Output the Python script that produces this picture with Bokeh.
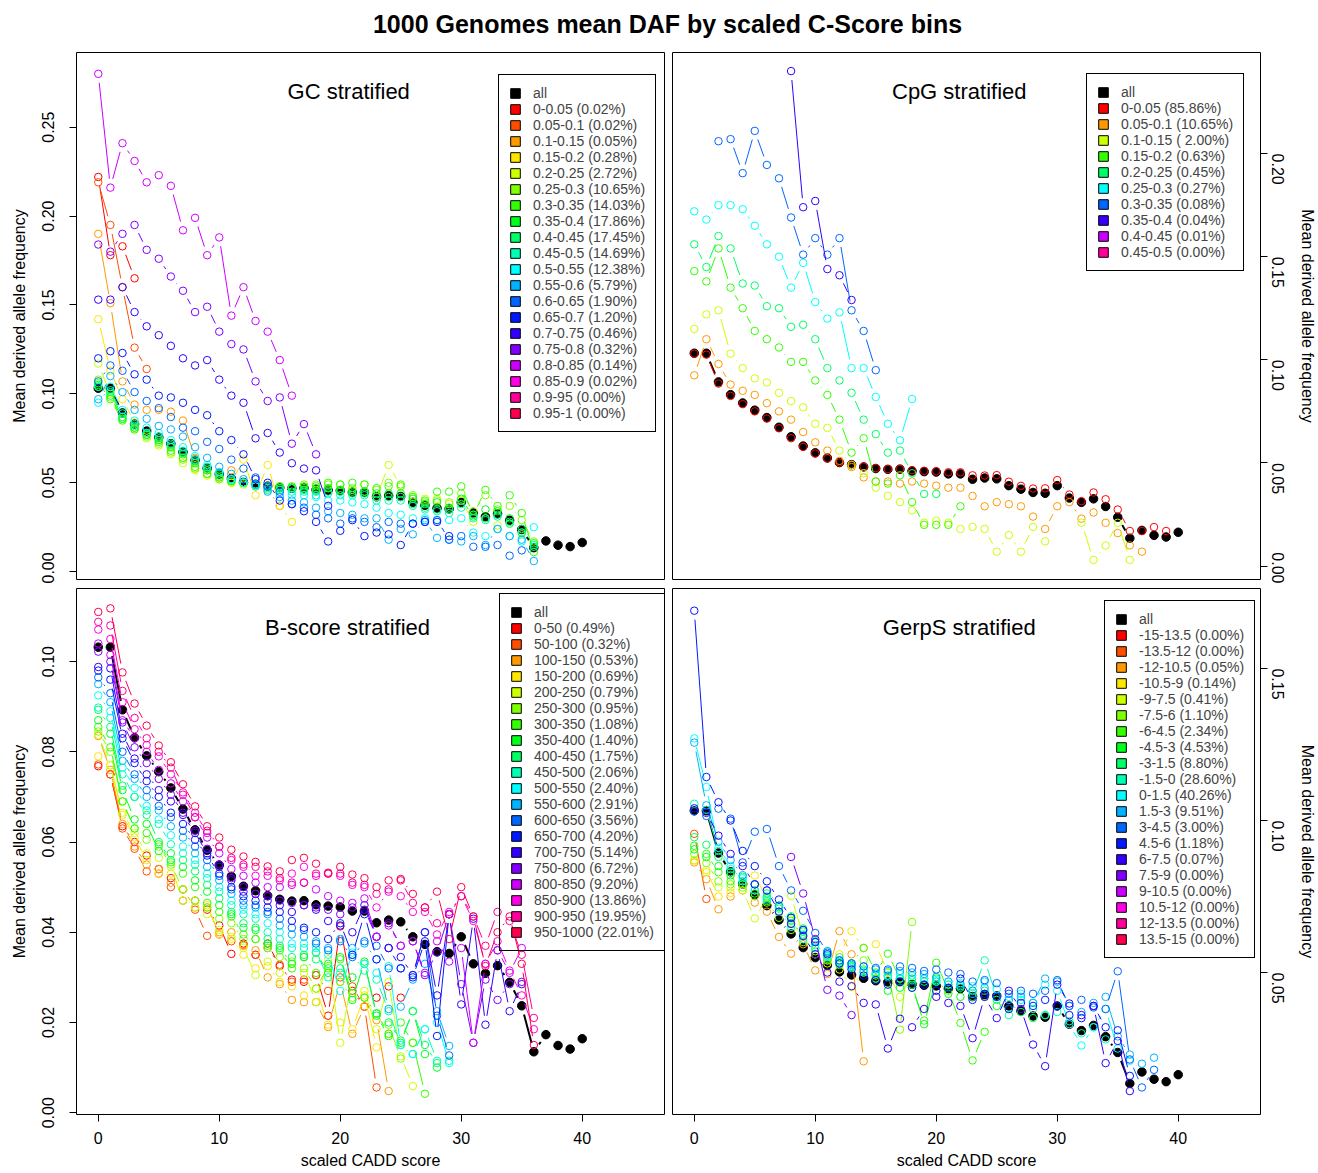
import math
import colorsys
from bokeh.plotting import figure
from bokeh.models import Legend, LegendItem, Label, FixedTicker, PrintfTickFormatter, Range1d
from bokeh.layouts import column, row
from bokeh.embed import file_html
from bokeh.resources import INLINE

FONT = "Liberation Sans"

# ---------------------------------------------------------------- data
cadd_score = list(range(41))
all_daf = [0.1032, 0.1032, 0.0893, 0.0831, 0.0791, 0.0756, 0.0720, 0.0673, 0.0627, 0.0582,
           0.0549, 0.0524, 0.0502, 0.0492, 0.0481, 0.0473, 0.0469, 0.0470, 0.0461, 0.0458,
           0.0456, 0.0447, 0.0447, 0.0421, 0.0427, 0.0423, 0.0390, 0.0373, 0.0357, 0.0353,
           0.0390, 0.0330, 0.0309, 0.0326, 0.0289, 0.0237, 0.0135, 0.0173, 0.0149, 0.0141, 0.0164]

# --- GC stratified
gc_labels = ["0-0.05 (0.02%)", "0.05-0.1 (0.02%)", "0.1-0.15 (0.05%)", "0.15-0.2 (0.28%)",
             "0.2-0.25 (2.72%)", "0.25-0.3 (10.65%)", "0.3-0.35 (14.03%)", "0.35-0.4 (17.86%)",
             "0.4-0.45 (17.45%)", "0.45-0.5 (14.69%)", "0.5-0.55 (12.38%)", "0.55-0.6 (5.79%)",
             "0.6-0.65 (1.90%)", "0.65-0.7 (1.20%)", "0.7-0.75 (0.46%)", "0.75-0.8 (0.32%)",
             "0.8-0.85 (0.14%)", "0.85-0.9 (0.02%)", "0.9-95 (0.00%)", "0.95-1 (0.00%)"]
gc_0_005 = [0.222, 0.178, 0.183, 0.165]
gc_005_01 = [0.219, 0.195, 0.160, 0.126, 0.114]
gc_01_015 = [0.190, 0.151, 0.107, 0.094, 0.091, 0.091, 0.090, 0.085, 0.064, 0.057, 0.053, 0.057,
             0.050, 0.048, 0.046, 0.037]
gc_015_02 = [0.142, 0.113, 0.097, 0.084, 0.077, 0.074, 0.070, 0.064, 0.058, 0.055, 0.052, 0.050,
             0.063, 0.043, 0.060, 0.037, 0.028]
gc_02_025 = [0.117, 0.100, 0.087, 0.080, 0.075, 0.071, 0.066, 0.061, 0.057, 0.054, 0.052, 0.050,
             0.049, 0.048, 0.046, 0.046, 0.047, 0.046, 0.046, 0.047, 0.046, 0.046, 0.045, 0.042,
             0.060, 0.048, 0.042, 0.041, 0.041, 0.038, 0.040, 0.028, 0.030, 0.026, 0.027, 0.021]
gc_025_03 = [0.108, 0.098, 0.086, 0.081, 0.076, 0.072, 0.067, 0.063, 0.058, 0.055, 0.052, 0.051,
             0.050, 0.048, 0.047, 0.048, 0.047, 0.049, 0.049, 0.049, 0.049, 0.047, 0.049, 0.046,
             0.050, 0.048, 0.043, 0.039, 0.040, 0.039, 0.044, 0.034, 0.043, 0.035, 0.037, 0.029, 0.017]
gc_03_035 = [0.106, 0.097, 0.085, 0.080, 0.077, 0.073, 0.068, 0.064, 0.059, 0.055, 0.053, 0.051,
             0.050, 0.049, 0.048, 0.048, 0.048, 0.048, 0.048, 0.050, 0.049, 0.050, 0.049, 0.047,
             0.048, 0.049, 0.042, 0.040, 0.045, 0.045, 0.048, 0.032, 0.046, 0.037, 0.043, 0.033, 0.011]
gc_035_04 = [0.105, 0.099, 0.086, 0.081, 0.077, 0.074, 0.070, 0.066, 0.061, 0.057, 0.054, 0.051,
             0.050, 0.049, 0.048, 0.047, 0.047, 0.047, 0.047, 0.047, 0.046, 0.045, 0.045, 0.044,
             0.044, 0.044, 0.041, 0.038, 0.039, 0.036, 0.041, 0.031, 0.035, 0.034, 0.030, 0.022, 0.016]
gc_04_045 = [0.104, 0.101, 0.087, 0.082, 0.078, 0.075, 0.071, 0.067, 0.062, 0.058, 0.055, 0.052,
             0.050, 0.049, 0.048, 0.047, 0.047, 0.046, 0.045, 0.045, 0.045, 0.044, 0.044, 0.042,
             0.042, 0.042, 0.038, 0.036, 0.035, 0.035, 0.038, 0.032, 0.030, 0.032, 0.028, 0.024, 0.015]
gc_045_05 = [0.104, 0.102, 0.089, 0.083, 0.078, 0.076, 0.072, 0.068, 0.063, 0.059, 0.056, 0.052,
             0.050, 0.049, 0.047, 0.046, 0.045, 0.045, 0.043, 0.044, 0.043, 0.043, 0.043, 0.040,
             0.040, 0.040, 0.037, 0.035, 0.034, 0.033, 0.036, 0.030, 0.029, 0.031, 0.027, 0.022, 0.014]
gc_05_055 = [0.095, 0.104, 0.091, 0.085, 0.081, 0.078, 0.074, 0.070, 0.065, 0.060, 0.056, 0.052,
             0.050, 0.048, 0.046, 0.044, 0.043, 0.043, 0.042, 0.040, 0.040, 0.039, 0.038, 0.036,
             0.033, 0.032, 0.030, 0.030, 0.029, 0.029, 0.030, 0.022, 0.020, 0.024, 0.020, 0.017, 0.025]
gc_055_06 = [0.097, 0.110, 0.101, 0.091, 0.086, 0.082, 0.080, 0.076, 0.070, 0.064, 0.059, 0.055,
             0.052, 0.049, 0.045, 0.042, 0.040, 0.039, 0.036, 0.034, 0.033, 0.032, 0.030, 0.030,
             0.018, 0.024, 0.021, 0.029, 0.019, 0.018, 0.017, 0.020, 0.015, 0.024, 0.020, 0.018, 0.006]
gc_06_065 = [0.107, 0.116, 0.113, 0.101, 0.096, 0.092, 0.087, 0.081, 0.079, 0.073, 0.069, 0.063,
             0.058, 0.053, 0.048, 0.045, 0.038, 0.036, 0.032, 0.030, 0.027, 0.030, 0.028, 0.025,
             0.028, 0.027, 0.027, 0.028, 0.029, 0.018, 0.020, 0.014, 0.014, 0.015, 0.009, 0.012]
gc_065_07 = [0.120, 0.124, 0.123, 0.111, 0.108, 0.099, 0.098, 0.095, 0.091, 0.088, 0.079, 0.074,
             0.066, 0.052, 0.050, 0.040, 0.038, 0.034, 0.028, 0.017, 0.023, 0.029, 0.020, 0.022,
             0.021, 0.015, 0.027, 0.028, 0.028, 0.020]
gc_07_075 = [0.153, 0.153, 0.160, 0.146, 0.138, 0.133, 0.127, 0.120, 0.116, 0.119, 0.108, 0.099,
             0.095, 0.075, 0.078, 0.067, 0.061, 0.058, 0.057, 0.037]
gc_075_08 = [0.184, 0.180, 0.190, 0.195, 0.181, 0.176, 0.166, 0.158, 0.146, 0.149, 0.135, 0.128,
             0.125, 0.107, 0.096, 0.098, 0.072, 0.083, 0.066]
gc_08_085 = [0.280, 0.216, 0.241, 0.231, 0.219, 0.223, 0.217, 0.192, 0.199, 0.178, 0.188, 0.144,
             0.160, 0.141, 0.135, 0.119, 0.099]
gc_085_09 = []
gc_09_095 = []
gc_095_1 = []

# --- CpG stratified
cpg_labels = ["0-0.05 (85.86%)", "0.05-0.1 (10.65%)", "0.1-0.15 ( 2.00%)", "0.15-0.2 (0.63%)",
              "0.2-0.25 (0.45%)", "0.25-0.3 (0.27%)", "0.3-0.35 (0.08%)", "0.35-0.4 (0.04%)",
              "0.4-0.45 (0.01%)", "0.45-0.5 (0.00%)"]
cpg_0_005 = [0.1030, 0.1025, 0.0885, 0.0825, 0.0785, 0.0750, 0.0715, 0.0668, 0.0620, 0.0578,
             0.0546, 0.0522, 0.0502, 0.0493, 0.0482, 0.0475, 0.0470, 0.0471, 0.0465, 0.0462,
             0.0460, 0.0455, 0.0455, 0.0440, 0.0439, 0.0441, 0.0409, 0.0389, 0.0376, 0.0377,
             0.0417, 0.0347, 0.0315, 0.0357, 0.0324, 0.0274, 0.0170, 0.0170, 0.0189, 0.0170]
cpg_005_01 = [0.0925, 0.110, 0.098, 0.088, 0.085, 0.083, 0.079, 0.075, 0.071, 0.065, 0.060, 0.056,
              0.051, 0.048, 0.043, 0.041, 0.041, 0.040, 0.041, 0.040, 0.039, 0.038, 0.038, 0.034,
              0.029, 0.031, 0.030, 0.029, 0.024, 0.018, 0.029, 0.031, 0.023, 0.026, 0.021, 0.016,
              0.010, 0.007]
cpg_01_015 = [0.115, 0.122, 0.124, 0.103, 0.096, 0.091, 0.089, 0.084, 0.080, 0.077, 0.069, 0.067,
              0.056, 0.049, 0.045, 0.038, 0.034, 0.031, 0.027, 0.021, 0.022, 0.021, 0.018, 0.019,
              0.018, 0.007, 0.015, 0.007, 0.019, 0.012, None, None, 0.021, 0.003, 0.010, 0.021, 0.003]
cpg_015_02 = [0.143, 0.138, 0.154, 0.135, 0.125, 0.114, 0.110, 0.106, 0.099, 0.099, 0.090, 0.083,
              0.071, 0.055, 0.062, 0.041, 0.040, 0.044, 0.031, 0.020, 0.020, 0.020, 0.029]
cpg_02_025 = [0.156, 0.145, 0.160, 0.154, 0.137, 0.136, 0.126, 0.125, 0.116, 0.117, 0.110, 0.096,
              0.090, 0.084, 0.071, 0.064, 0.055, 0.056, 0.045, 0.035, 0.035]
cpg_025_03 = [0.172, 0.168, 0.175, 0.175, 0.173, 0.165, 0.156, 0.150, 0.135, 0.147, 0.128, 0.120,
              0.123, 0.096, 0.096, 0.082, 0.069, 0.061, 0.081]
cpg_03_035 = [None, None, 0.206, 0.207, 0.1905, 0.211, 0.1945, 0.188, 0.169, 0.151, 0.159, 0.151,
              0.159, 0.124, 0.114, 0.095]
cpg_035_04 = [None, None, None, None, None, None, None, None, 0.240, 0.174, 0.177, 0.144, 0.141, 0.129]
cpg_04_045 = []
cpg_045_05 = []

# --- B-score stratified
bs_labels = ["0-50 (0.49%)", "50-100 (0.32%)", "100-150 (0.53%)", "150-200 (0.69%)",
             "200-250 (0.79%)", "250-300 (0.95%)", "300-350 (1.08%)", "350-400 (1.40%)",
             "400-450 (1.75%)", "450-500 (2.06%)", "500-550 (2.40%)", "550-600 (2.91%)",
             "600-650 (3.56%)", "650-700 (4.20%)", "700-750 (5.14%)", "750-800 (6.72%)",
             "800-850 (9.20%)", "850-900 (13.86%)", "900-950 (19.95%)", "950-1000 (22.01%)"]
bs_0_50 = [0.0768, 0.0750, 0.0635, 0.0600, 0.0570, 0.0540, 0.0520, 0.0495, 0.0470, 0.0450, 0.0415,
           0.0352, 0.0375, 0.0350, 0.0375, 0.0325, 0.0295, 0.0290, 0.0305, 0.0215, 0.0413, 0.0270,
           0.0235, 0.0255, 0.0280, 0.0255]
bs_50_100 = [0.0772, 0.0750, 0.0630, 0.0585, 0.0535, 0.0530, 0.0500, 0.0470, 0.0450, 0.0392, 0.0395,
             0.0380, 0.0372, 0.0350, 0.0365, 0.0328, 0.0290, 0.0295, 0.0305, 0.0270, 0.0300, 0.0280,
             0.0235, 0.0056]
bs_100_150 = [0.0835, 0.0760, 0.0640, 0.0590, 0.0550, 0.0540, 0.0510, 0.0495, 0.0455, 0.0455, 0.0400,
              0.0400, 0.0370, 0.0360, 0.0300, 0.0285, 0.0250, 0.0245, 0.0245, 0.0190, 0.0290, 0.0175,
              0.0235, 0.0205, 0.0048]
bs_150_200 = [0.0790, 0.0770, 0.0660, 0.0610, 0.0560, 0.0530, 0.0530, 0.0495, 0.0470, 0.0460, 0.0395,
              0.0385, 0.0350, 0.0320, 0.0325, 0.0290, 0.0280, 0.0260, 0.0275, 0.0195, 0.0200, 0.0185,
              0.0260, 0.0145, 0.0175]
bs_200_250 = [0.0838, 0.0770, 0.0665, 0.0620, 0.0575, 0.0565, 0.0545, 0.0470, 0.0455, 0.0440, 0.0405,
              0.0390, 0.0365, 0.0305, 0.0335, 0.0310, 0.0330, 0.0310, 0.0245, 0.0340, 0.0155, 0.0300,
              0.0270, 0.0185, 0.0290, 0.0125, 0.0059]
bs_250_300 = [0.0845, 0.0800, 0.0690, 0.0630, 0.0605, 0.0590, 0.0550, 0.0495, 0.0470, 0.0455, 0.0430,
              0.0420, 0.0385, 0.0385, 0.0365, 0.0345, 0.0335, 0.0320, 0.0275, 0.0325, 0.0290, 0.0255,
              0.0255, 0.0220, 0.0195, 0.0120, 0.0155]
bs_300_350 = [0.0855, 0.0810, 0.0690, 0.0630, 0.0620, 0.0595, 0.0555, 0.0530, 0.0500, 0.0465, 0.0445,
              0.0435, 0.0395, 0.0385, 0.0370, 0.0360, 0.0320, 0.0345, 0.0310, 0.0320, 0.0340, 0.0265,
              0.0255, 0.0220, 0.0175, 0.0200, 0.0155, 0.0042]
bs_350_400 = [0.0870, 0.0840, 0.0715, 0.0650, 0.0640, 0.0580, 0.0575, 0.0545, 0.0515, 0.0490, 0.0460,
              0.0440, 0.0410, 0.0405, 0.0375, 0.0365, 0.0330, 0.0345, 0.0355, 0.0310, 0.0345, 0.0250,
              0.0335, 0.0215, 0.0170, 0.0155, 0.0225, 0.0130, 0.0100]
bs_400_450 = [0.0893, 0.0855, 0.0725, 0.0700, 0.0660, 0.0600, 0.0560, 0.0560, 0.0535, 0.0505, 0.0475,
              0.0445, 0.0420, 0.0410, 0.0385, 0.0370, 0.0345, 0.0350, 0.0340, 0.0330, 0.0320, 0.0300,
              0.0330, 0.0220, 0.0200, 0.0160, 0.0225, 0.0150, 0.0110]
bs_450_500 = [0.0898, 0.0875, 0.0750, 0.0700, 0.0670, 0.0640, 0.0595, 0.0575, 0.0550, 0.0520, 0.0490,
              0.0460, 0.0440, 0.0430, 0.0400, 0.0385, 0.0365, 0.0365, 0.0355, 0.0300, 0.0310, 0.0350,
              0.0315, 0.0295, 0.0225, 0.0150, 0.0130, 0.0185, 0.0115, 0.0115]
bs_500_550 = [0.0925, 0.0890, 0.0765, 0.0720, 0.0680, 0.0650, 0.0615, 0.0590, 0.0560, 0.0530, 0.0500,
              0.0470, 0.0450, 0.0440, 0.0420, 0.0400, 0.0375, 0.0375, 0.0365, 0.0350, 0.0270, 0.0355,
              0.0330, 0.0310, 0.0325, 0.0150, 0.0130, 0.0185, 0.0200, 0.0110]
bs_550_600 = [0.0950, 0.0910, 0.0780, 0.0740, 0.0700, 0.0670, 0.0635, 0.0610, 0.0575, 0.0545, 0.0515,
              0.0485, 0.0460, 0.0455, 0.0440, 0.0415, 0.0395, 0.0390, 0.0380, 0.0365, 0.0385, 0.0365,
              0.0375, 0.0340, 0.0230, 0.0235, 0.0295, 0.0330, 0.0225, 0.0148]
bs_600_650 = [0.0965, 0.0930, 0.0800, 0.0750, 0.0715, 0.0680, 0.0655, 0.0625, 0.0590, 0.0560, 0.0525,
              0.0495, 0.0470, 0.0460, 0.0445, 0.0430, 0.0410, 0.0405, 0.0375, 0.0360, 0.0380, 0.0345,
              0.0380, 0.0370, 0.0320, 0.0320, 0.0305, 0.0400, 0.0215, 0.0127]
bs_650_700 = [0.0980, 0.0960, 0.0830, 0.0775, 0.0735, 0.0700, 0.0665, 0.0640, 0.0605, 0.0570, 0.0530,
              0.0500, 0.0480, 0.0470, 0.0455, 0.0445, 0.0425, 0.0410, 0.0400, 0.0385, 0.0420, 0.0350,
              0.0440, 0.0340, 0.0365, 0.0320, 0.0300, 0.0380, 0.0170, 0.0440]
bs_700_750 = [0.0988, 0.0985, 0.0840, 0.0785, 0.0750, 0.0715, 0.0690, 0.0660, 0.0620, 0.0575, 0.0545,
              0.0515, 0.0490, 0.0485, 0.0470, 0.0460, 0.0445, 0.0460, 0.0450, 0.0425, 0.0415, 0.0400,
              0.0460, 0.0390, 0.0365, 0.0345, 0.0305, 0.0400, 0.0260, 0.0440, 0.0240, 0.0430, 0.0195,
              0.0360, 0.0225, 0.0285]
bs_750_800 = [0.1022, 0.1000, 0.0865, 0.0810, 0.0775, 0.0740, 0.0705, 0.0665, 0.0625, 0.0585, 0.0550,
              0.0520, 0.0500, 0.0485, 0.0480, 0.0470, 0.0465, 0.0460, 0.0455, 0.0450, 0.0440, 0.0455,
              0.0450, 0.0390, 0.0420, 0.0370, 0.0380, 0.0305, 0.0355, 0.0440, 0.0285, 0.0155, 0.0295,
              0.0250, 0.0285, 0.0290]
bs_800_850 = [0.1040, 0.1015, 0.0870, 0.0830, 0.0800, 0.0760, 0.0730, 0.0690, 0.0655, 0.0610, 0.0575,
              0.0540, 0.0525, 0.0510, 0.0500, 0.0500, 0.0505, 0.0510, 0.0495, 0.0480, 0.0470, 0.0465,
              0.0475, 0.0390, 0.0415, 0.0370, 0.0380, 0.0310, 0.0380, 0.0335, 0.0365, 0.0155, 0.0330,
              0.0360, 0.0310, 0.0365]
bs_850_900 = [0.1071, 0.1050, 0.0910, 0.0850, 0.0815, 0.0790, 0.0750, 0.0710, 0.0665, 0.0620, 0.0590,
              0.0560, 0.0545, 0.0525, 0.0525, 0.0515, 0.0530, 0.0545, 0.0525, 0.0530, 0.0525, 0.0505,
              0.0500, 0.0455, 0.0490, 0.0480, 0.0445, 0.0445, 0.0395, 0.0445, 0.0480, 0.0425, 0.0330,
              0.0380, 0.0315, 0.0260, 0.0185]
bs_900_950 = [0.1088, 0.1080, 0.0935, 0.0875, 0.0830, 0.0800, 0.0765, 0.0705, 0.0655, 0.0625, 0.0590,
              0.0565, 0.0550, 0.0545, 0.0535, 0.0520, 0.0510, 0.0510, 0.0530, 0.0530, 0.0530, 0.0510,
              0.0505, 0.0485, 0.0495, 0.0515, 0.0465, 0.0455, 0.0420, 0.0440, 0.0480, 0.0435, 0.0370,
              0.0445, 0.0425, 0.0350, 0.0210]
bs_950_1000 = [0.1110, 0.1118, 0.0976, 0.0907, 0.0858, 0.0814, 0.0777, 0.0728, 0.0679, 0.0635, 0.0610,
               0.0583, 0.0568, 0.0556, 0.0546, 0.0535, 0.0560, 0.0565, 0.0552, 0.0532, 0.0545, 0.0528,
               0.0520, 0.0500, 0.0515, 0.0518, 0.0485, 0.0455, 0.0490, 0.0385, 0.0500, 0.0435, 0.0325,
               0.0400, 0.0435, 0.0330, 0.0150]

# --- GerpS stratified
gp_labels = ["-15-13.5 (0.00%)", "-13.5-12 (0.00%)", "-12-10.5 (0.05%)", "-10.5-9 (0.14%)",
             "-9-7.5 (0.41%)", "-7.5-6 (1.10%)", "-6-4.5 (2.34%)", "-4.5-3 (4.53%)",
             "-3-1.5 (8.80%)", "-1.5-0 (28.60%)", "0-1.5 (40.26%)", "1.5-3 (9.51%)",
             "3-4.5 (3.00%)", "4.5-6 (1.18%)", "6-7.5 (0.07%)", "7.5-9 (0.00%)",
             "9-10.5 (0.00%)", "10.5-12 (0.00%)", "12-13.5 (0.00%)", "13.5-15 (0.00%)"]
gp_m15_m135 = []
gp_m135_m12 = [0.0956, 0.0742]
gp_m12_m105 = [0.0862, 0.0807, 0.0708, 0.0750, 0.0770, 0.0730, 0.0700, 0.0617, 0.0562, 0.0593,
               0.0507, 0.0495, 0.0636, 0.0560, 0.0208]
gp_m105_m9 = [0.0868, 0.0837, 0.0750, 0.0762, 0.0790, 0.0819, 0.0745, 0.0700, 0.0675, 0.0610,
              0.0560, 0.0540, 0.0560, 0.0636, 0.0580, 0.0593, 0.0500]
gp_m9_m75 = [0.0870, 0.0830, 0.0780, 0.0780, 0.0770, 0.0678, 0.0746, 0.0720, 0.0752, 0.0620,
             0.0560, 0.0530, 0.0510, 0.0452, 0.0505, 0.0480, 0.0500, 0.0420, 0.0490]
gp_m75_m6 = [0.0890, 0.0860, 0.0800, 0.0790, 0.0780, 0.0750, 0.0730, 0.0680, 0.0640, 0.0600,
             0.0570, 0.0545, 0.0530, 0.0520, 0.0540, 0.0490, 0.0500, 0.0312, 0.0666]
gp_m6_m45 = [0.0917, 0.0890, 0.0830, 0.0800, 0.0790, 0.0760, 0.0735, 0.0700, 0.0670, 0.0620,
             0.0580, 0.0540, 0.0525, 0.0530, 0.0581, 0.0500, 0.0562, 0.0480, 0.0450, 0.0342,
             0.0532, 0.0440, 0.0334, 0.0211, 0.0305]
gp_m45_m3 = [0.0905, 0.0880, 0.0850, 0.0820, 0.0800, 0.0770, 0.0745, 0.0715, 0.0680, 0.0635,
             0.0600, 0.0555, 0.0535, 0.0520, 0.0500, 0.0480, 0.0440, 0.0450, 0.0460, 0.0330,
             0.0480, 0.0430, 0.0420, 0.0440, 0.0420, 0.0390]
gp_m3_m15 = [0.0945, 0.0920, 0.0880, 0.0830, 0.0815, 0.0790, 0.0760, 0.0720, 0.0685, 0.0645,
             0.0605, 0.0570, 0.0550, 0.0530, 0.0510, 0.0495, 0.0485, 0.0480, 0.0480, 0.0470,
             0.0470, 0.0460, 0.0450, 0.0420, 0.0440, 0.0410, 0.0380, 0.0370, 0.0350, 0.0360]
gp_m15_0 = [0.1055, 0.1035, 0.0900, 0.0840, 0.0810, 0.0790, 0.0750, 0.0710, 0.0660, 0.0625,
            0.0590, 0.0555, 0.0535, 0.0520, 0.0505, 0.0495, 0.0490, 0.0480, 0.0475, 0.0480,
            0.0470, 0.0460, 0.0455, 0.0430, 0.0540, 0.0420, 0.0360, 0.0410, 0.0380, 0.0360,
            0.0370, 0.0340, 0.0300, 0.0320, 0.0280]
gp_0_15 = [0.1270, 0.1110, 0.0910, 0.0850, 0.0800, 0.0770, 0.0740, 0.0700, 0.0650, 0.0610,
           0.0580, 0.0550, 0.0530, 0.0515, 0.0500, 0.0495, 0.0490, 0.0495, 0.0490, 0.0480,
           0.0475, 0.0470, 0.0465, 0.0455, 0.0470, 0.0445, 0.0420, 0.0430, 0.0400, 0.0460,
           0.0440, 0.0330, 0.0260, 0.0320, 0.0380, 0.0250, 0.0210]
gp_15_3 = [0.1256, 0.1050, 0.0930, 0.0870, 0.0820, 0.0790, 0.0770, 0.0720, 0.0680, 0.0640,
           0.0600, 0.0570, 0.0540, 0.0525, 0.0520, 0.0510, 0.0505, 0.0505, 0.0500, 0.0495,
           0.0485, 0.0470, 0.0460, 0.0440, 0.0450, 0.0420, 0.0410, 0.0420, 0.0400, 0.0480,
           0.0470, 0.0390, 0.0370, 0.0400, 0.0420, 0.0290, 0.0230, 0.0200, 0.0220]
gp_3_45 = [0.1030, 0.1015, 0.1039, 0.1006, 0.0862, 0.0963, 0.0972, 0.0850, 0.0770, 0.0703,
           0.0630, 0.0565, 0.0540, 0.0530, 0.0520, 0.0515, 0.0510, 0.0520, 0.0515, 0.0505,
           0.0510, 0.0500, 0.0495, 0.0470, 0.0475, 0.0465, 0.0430, 0.0440, 0.0430, 0.0440,
           0.0475, 0.0390, 0.0410, 0.0385, 0.0380, 0.0504, 0.0214, 0.0122, 0.0180]
gp_45_6 = [0.1690, 0.1143, 0.1060, 0.1000, 0.0900, 0.0850, 0.0800, 0.0740, 0.0680, 0.0640,
           0.0600, 0.0560, 0.0530, 0.0510, 0.0490, 0.0475, 0.0460, 0.0470, 0.0450, 0.0460,
           0.0440, 0.0450, 0.0480, 0.0410, 0.0430, 0.0420, 0.0380, 0.0400, 0.0390, 0.0410,
           0.0390, 0.0360, 0.0350, 0.0390, 0.0320, 0.0310, 0.0160]
gp_6_75 = [0.1040, 0.1025, 0.0950, 0.0890, 0.0850, 0.0790, 0.0770, 0.0700, 0.0660, 0.0620,
           0.0560, 0.0500, 0.0470, 0.0455, 0.0400, 0.0395, 0.0250, 0.0348, 0.0320, 0.0380,
           0.0420, 0.0400, 0.0390, 0.0284, 0.0420, 0.0350, 0.0440, 0.0380, 0.0263, 0.0192,
           0.0460, 0.0398, 0.0360, 0.0390, 0.0202, 0.0275, 0.0110]
gp_75_9 = [None, None, None, None, None, None, None, None, 0.0880, 0.0760, 0.0610, 0.0443, 0.0424, 0.0360]
gp_9_105 = []
gp_105_12 = []
gp_12_135 = []
gp_135_15 = []

gc_series = [gc_0_005, gc_005_01, gc_01_015, gc_015_02, gc_02_025, gc_025_03, gc_03_035,
             gc_035_04, gc_04_045, gc_045_05, gc_05_055, gc_055_06, gc_06_065, gc_065_07,
             gc_07_075, gc_075_08, gc_08_085, gc_085_09, gc_09_095, gc_095_1]
cpg_series = [cpg_0_005, cpg_005_01, cpg_01_015, cpg_015_02, cpg_02_025, cpg_025_03,
              cpg_03_035, cpg_035_04, cpg_04_045, cpg_045_05]
bs_series = [bs_0_50, bs_50_100, bs_100_150, bs_150_200, bs_200_250, bs_250_300, bs_300_350,
             bs_350_400, bs_400_450, bs_450_500, bs_500_550, bs_550_600, bs_600_650, bs_650_700,
             bs_700_750, bs_750_800, bs_800_850, bs_850_900, bs_900_950, bs_950_1000]
gp_series = [gp_m15_m135, gp_m135_m12, gp_m12_m105, gp_m105_m9, gp_m9_m75, gp_m75_m6, gp_m6_m45,
             gp_m45_m3, gp_m3_m15, gp_m15_0, gp_0_15, gp_15_3, gp_3_45, gp_45_6, gp_6_75, gp_75_9,
             gp_9_105, gp_105_12, gp_12_135, gp_135_15]


# ---------------------------------------------------------------- styling helpers
def rainbow(n):
    out = []
    for i in range(n):
        r, g, b = colorsys.hsv_to_rgb(i / n, 1.0, 1.0)
        out.append("#%02X%02X%02X" % (int(r * 255 + 0.5), int(g * 255 + 0.5), int(b * 255 + 0.5)))
    return out


XR = (-1.8, 46.8)
FW = 588
GAP = 9.0


def gapped(xs, ys, sx, sy, gap):
    """R type='b': segments between successive points, left open around each point."""
    x0, y0, x1, y1 = [], [], [], []
    for i in range(len(ys) - 1):
        if ys[i] is None or ys[i + 1] is None:
            continue
        dx = (xs[i + 1] - xs[i]) * sx
        dy = (ys[i + 1] - ys[i]) * sy
        L = math.hypot(dx, dy)
        if L <= 2 * gap:
            continue
        f = gap / L
        x0.append(xs[i] + (xs[i + 1] - xs[i]) * f)
        y0.append(ys[i] + (ys[i + 1] - ys[i]) * f)
        x1.append(xs[i + 1] - (xs[i + 1] - xs[i]) * f)
        y1.append(ys[i + 1] - (ys[i + 1] - ys[i]) * f)
    return x0, y0, x1, y1


def style_axis(ax):
    ax.axis_line_color = None
    ax.major_tick_out = 7
    ax.major_tick_in = 0
    ax.minor_tick_out = 0
    ax.minor_tick_in = 0
    ax.major_tick_line_color = "black"
    ax.major_label_text_font = FONT
    ax.major_label_text_font_size = "16px"
    ax.major_label_text_color = "black"
    ax.axis_label_text_font = FONT
    ax.axis_label_text_font_size = "16px"
    ax.axis_label_text_font_style = "normal"
    ax.axis_label_text_color = "black"


def panel(series, labels, colors, yr, yticks, side, fh, title, title_xy, leg_xy, show_x, borders):
    bl, br, bt, bb = borders
    p = figure(frame_width=FW, frame_height=fh, x_range=Range1d(*XR), y_range=Range1d(*yr),
               output_backend="svg", toolbar_location=None,
               x_axis_location="below" if show_x else None, y_axis_location=side,
               min_border_left=bl, min_border_right=br, min_border_top=bt, min_border_bottom=bb)
    p.xgrid.visible = False
    p.ygrid.visible = False
    p.outline_line_color = "black"
    p.outline_line_width = 1
    p.outline_line_alpha = 1
    p.background_fill_color = "white"
    p.border_fill_color = "white"

    sx = FW / (XR[1] - XR[0])
    sy = fh / (yr[1] - yr[0])

    # overall series
    s = gapped(cadd_score, all_daf, sx, sy, GAP)
    p.segment(x0=s[0], y0=s[1], x1=s[2], y1=s[3], line_color="black", line_width=2)
    p.scatter(x=cadd_score, y=all_daf, marker="circle", size=8.5, fill_color="black",
              line_color="black")

    items = []
    dummy = p.quad(left=[float("nan")], right=[float("nan")], top=[float("nan")],
                   bottom=[float("nan")], fill_color="black", line_color="black")
    items.append(LegendItem(label="all", renderers=[dummy]))

    for vals, col, lab in zip(series, colors, labels):
        xs = [i for i, v in enumerate(vals) if v is not None]
        ys = [v for v in vals if v is not None]
        if vals:
            s = gapped(list(range(len(vals))), vals, sx, sy, GAP)
            p.segment(x0=s[0], y0=s[1], x1=s[2], y1=s[3], line_color=col, line_width=1)
            p.scatter(x=xs, y=ys, marker="circle", size=7.5, fill_color=None, line_color=col,
                      line_width=1)
        d = p.quad(left=[float("nan")], right=[float("nan")], top=[float("nan")],
                   bottom=[float("nan")], fill_color=col, line_color="black")
        items.append(LegendItem(label=lab, renderers=[d]))

    leg = Legend(items=items, location=leg_xy, label_text_font=FONT, label_text_font_size="14px",
                 label_height=16, glyph_height=12, glyph_width=12, label_standoff=12, spacing=0,
                 padding=10, margin=0, border_line_color="black", border_line_width=1,
                 border_line_alpha=1, background_fill_alpha=0)
    p.add_layout(leg)

    p.add_layout(Label(x=title_xy[0], y=title_xy[1], text=title, text_font=FONT,
                       text_font_size="22px", text_align="center", text_baseline="middle",
                       text_color="black"))

    yax = p.yaxis[0]
    style_axis(yax)
    yax.ticker = FixedTicker(ticks=yticks)
    yax.formatter = PrintfTickFormatter(format="%.2f")
    yax.axis_label = "Mean derived allele frequency"
    if side == "left":
        yax.major_label_orientation = "vertical"
        yax.major_label_standoff = 15
        yax.axis_label_standoff = 12
    else:
        yax.major_label_orientation = -math.pi / 2
        yax.major_label_standoff = 10
        yax.axis_label_standoff = 6

    if show_x:
        xax = p.xaxis[0]
        style_axis(xax)
        xax.ticker = FixedTicker(ticks=[0, 10, 20, 30, 40])
        xax.axis_label = "scaled CADD score"
        xax.major_label_standoff = 10
        xax.axis_label_standoff = 5
    return p


c20 = rainbow(20)
c10 = rainbow(10)

p_gc = panel(gc_series, gc_labels, c20, (-0.0044, 0.2920), [0, 0.05, 0.10, 0.15, 0.20, 0.25],
             "left", 527, "GC stratified", (20.7, 0.2701), (422, 147), False, (76, 4, 12, 4))
p_cpg = panel(cpg_series, cpg_labels, c10, (-0.0065, 0.2490), [0, 0.05, 0.10, 0.15, 0.20],
              "right", 527, "CpG stratified", (21.9, 0.2301), (414, 308), False, (4, 58, 12, 4))
p_bs = panel(bs_series, bs_labels, c20, (-0.0004, 0.1162), [0, 0.02, 0.04, 0.06, 0.08, 0.10],
             "left", 526, "B-score stratified", (20.6, 0.1075), (423, 163), True, (76, 4, 5, 59))
p_gp = panel(gp_series, gp_labels, c20, (0.0033, 0.1763), [0.05, 0.10, 0.15],
             "right", 526, "GerpS stratified", (21.9, 0.1635), (432, 156), True, (4, 58, 5, 59))

# main title strip
t = figure(width=1318, height=40, x_range=Range1d(0, 1318), y_range=Range1d(0, 40),
           output_backend="svg", toolbar_location=None, x_axis_location=None,
           y_axis_location=None, min_border=0)
t.xgrid.visible = False
t.ygrid.visible = False
t.outline_line_color = None
t.add_layout(Label(x=667, y=17, text="1000 Genomes mean DAF by scaled C-Score bins",
                   text_font=FONT, text_font_size="25px", text_font_style="bold",
                   text_align="center", text_baseline="middle", text_color="black"))

layout = column(t, row(p_gc, p_cpg), row(p_bs, p_gp))

with open("out.html", "w") as f:
    f.write(file_html(layout, INLINE))
